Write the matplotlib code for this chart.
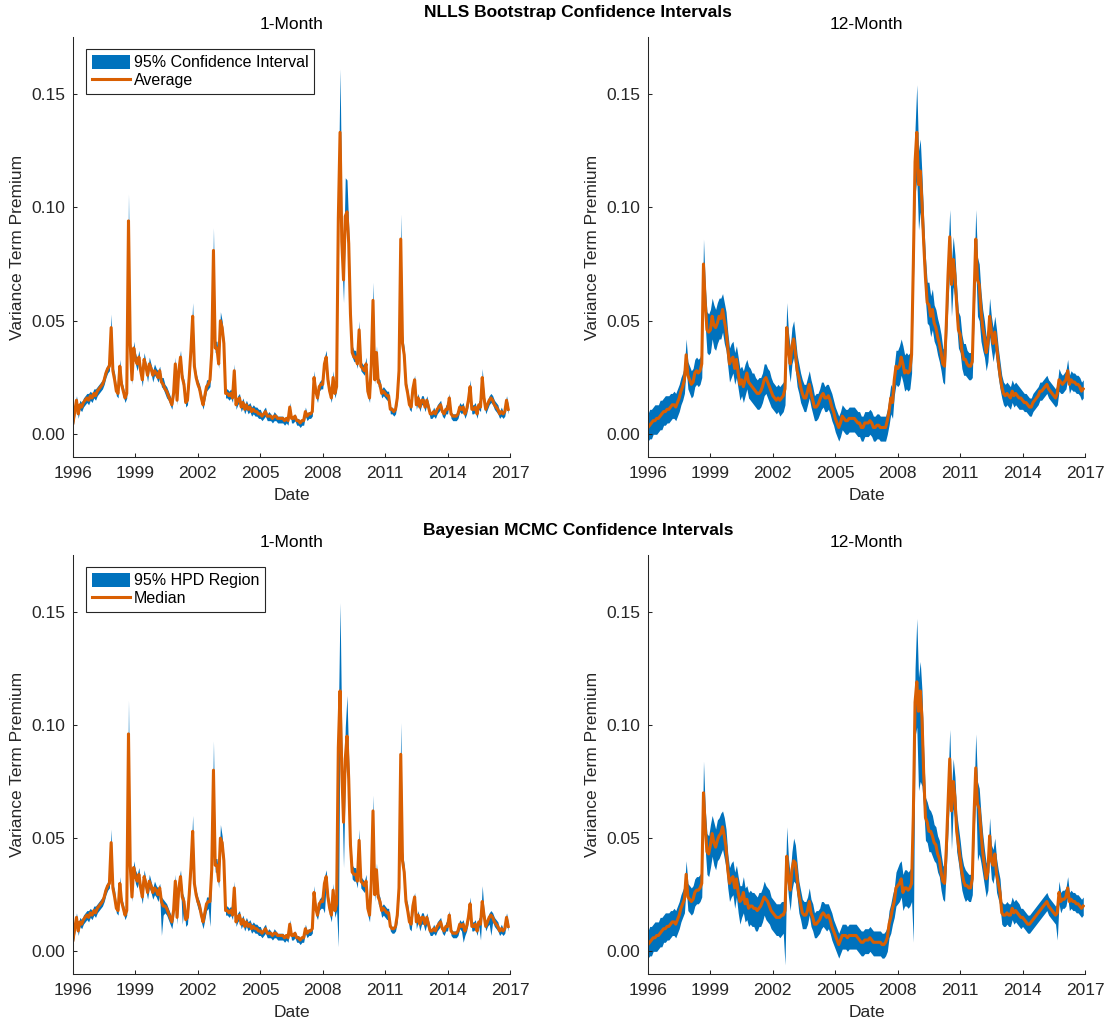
import numpy as np
import matplotlib
matplotlib.use("Agg")
import matplotlib.pyplot as plt
from matplotlib.patches import Patch
from matplotlib.lines import Line2D

plt.rcParams['font.family'] = ['Liberation Sans', 'DejaVu Sans']

# Monthly observations, Jan 1996 - Dec 2016 (values in units of 1e-3)
start_year = 1996
n_months = 252
year_ticks = [1996, 1999, 2002, 2005, 2008, 2011, 2014, 2017]
value_ticks = [0.00, 0.05, 0.10, 0.15]
value_tick_labels = ["0.00", "0.05", "0.10", "0.15"]

# ---- NLLS bootstrap, 1-month horizon: average and 95% CI distances ----
nlls_1m_avg = [
    5, 10, 15, 9, 13, 12, 14, 15, 16, 15, 17, 16,
    18, 17, 19, 20, 21, 22, 24, 27, 29, 30, 47, 28,
    24, 19, 18, 30, 22, 19, 16, 18, 94, 40, 24, 38,
    33, 31, 34, 28, 24, 33, 30, 26, 31, 29, 26, 28,
    27, 25, 28, 23, 22, 20, 19, 17, 15, 13, 18, 31,
    15, 28, 34, 25, 22, 14, 15, 25, 37, 52, 30, 25,
    22, 20, 16, 13, 17, 21, 22, 24, 36, 81, 38, 38,
    31, 50, 47, 40, 18, 18, 17, 18, 16, 28, 13, 15,
    16, 12, 14, 11, 13, 11, 12, 10, 11, 10, 10, 9,
    9, 8, 9, 10, 8, 8, 8, 7, 8, 8, 7, 7,
    7, 7, 6, 7, 6, 12, 7, 7, 8, 6, 6, 5,
    6, 6, 10, 8, 9, 9, 10, 25, 19, 16, 21, 22,
    22, 31, 34, 24, 19, 16, 25, 18, 21, 95, 133, 85,
    68, 96, 98, 84, 53, 36, 34, 34, 31, 46, 30, 29,
    28, 31, 19, 16, 30, 59, 24, 36, 23, 22, 18, 19,
    18, 17, 17, 11, 11, 10, 11, 16, 28, 86, 40, 35,
    22, 18, 13, 12, 20, 24, 13, 16, 12, 15, 15, 12,
    15, 12, 9, 9, 10, 9, 11, 12, 13, 10, 9, 11,
    11, 16, 9, 8, 8, 8, 9, 12, 11, 12, 9, 11,
    15, 21, 11, 11, 12, 9, 13, 12, 25, 16, 11, 13,
    15, 16, 15, 13, 12, 11, 9, 10, 9, 10, 15, 11,
]
nlls_1m_hi = [
    2, 2, 2, 3, 2, 2, 2, 2, 2, 3, 2, 2,
    2, 3, 2, 2, 2, 2, 3, 2, 2, 3, 6, 2,
    3, 2, 2, 3, 2, 2, 2, 3, 12, 3, 2, 3,
    3, 2, 3, 2, 3, 3, 2, 2, 3, 2, 2, 3,
    2, 3, 2, 2, 3, 2, 2, 2, 2, 2, 3, 3,
    2, 3, 3, 2, 2, 2, 2, 3, 3, 6, 2, 2,
    2, 2, 2, 2, 2, 3, 2, 2, 3, 10, 3, 3,
    3, 4, 3, 2, 2, 2, 2, 2, 2, 3, 2, 2,
    2, 2, 2, 2, 2, 2, 2, 2, 2, 2, 2, 2,
    2, 1, 2, 2, 1, 2, 1, 1, 2, 1, 1, 1,
    1, 1, 1, 1, 1, 2, 1, 1, 1, 1, 1, 1,
    1, 1, 2, 1, 1, 1, 2, 3, 2, 2, 2, 2,
    2, 3, 3, 2, 2, 2, 3, 2, 3, 12, 28, 14,
    10, 17, 14, 7, 4, 3, 3, 3, 3, 4, 2, 2,
    2, 3, 2, 2, 3, 8, 2, 3, 2, 2, 2, 2,
    2, 2, 2, 1, 1, 1, 1, 2, 3, 11, 4, 3,
    2, 2, 2, 2, 2, 2, 2, 2, 2, 2, 2, 2,
    2, 2, 1, 1, 2, 1, 2, 2, 2, 1, 1, 2,
    2, 2, 1, 1, 1, 1, 2, 2, 2, 2, 1, 2,
    2, 3, 2, 2, 2, 1, 2, 2, 4, 2, 2, 2,
    2, 2, 2, 2, 2, 2, 1, 2, 1, 2, 2, 2,
]
nlls_1m_lo = [
    2, 2, 2, 2, 2, 2, 2, 2, 2, 2, 2, 2,
    2, 2, 2, 2, 2, 2, 2, 2, 2, 2, 3, 2,
    2, 2, 2, 2, 2, 2, 2, 2, 4, 2, 2, 2,
    2, 3, 2, 2, 3, 2, 2, 3, 2, 2, 3, 2,
    2, 2, 3, 2, 2, 2, 3, 2, 2, 2, 2, 2,
    2, 2, 2, 3, 2, 2, 2, 2, 2, 3, 2, 2,
    2, 2, 2, 2, 2, 2, 2, 3, 2, 3, 2, 2,
    2, 2, 2, 2, 2, 2, 2, 2, 2, 2, 2, 2,
    2, 2, 2, 2, 2, 2, 2, 2, 2, 2, 2, 2,
    2, 2, 2, 2, 2, 2, 2, 2, 2, 2, 2, 2,
    2, 2, 2, 2, 2, 2, 2, 2, 2, 2, 2, 2,
    2, 2, 2, 2, 2, 2, 2, 2, 2, 2, 2, 2,
    2, 2, 2, 2, 2, 2, 2, 2, 2, 5, 6, 8,
    10, 6, 5, 4, 3, 2, 2, 2, 2, 3, 2, 2,
    2, 2, 2, 2, 2, 3, 2, 2, 2, 2, 2, 2,
    2, 2, 2, 2, 2, 2, 2, 2, 2, 3, 2, 2,
    2, 2, 2, 2, 2, 2, 2, 2, 2, 2, 2, 2,
    2, 2, 2, 2, 2, 2, 2, 2, 2, 2, 2, 2,
    2, 2, 2, 2, 2, 2, 2, 2, 2, 2, 2, 2,
    2, 2, 2, 2, 2, 2, 2, 2, 2, 2, 2, 2,
    2, 2, 2, 2, 2, 2, 2, 2, 2, 2, 2, 2,
]

# ---- NLLS bootstrap, 12-month horizon ----
nlls_12m_avg = [
    3, 4, 5, 6, 6, 7, 7, 8, 9, 10, 10, 11,
    11, 12, 13, 13, 12, 14, 16, 19, 21, 24, 35, 26,
    24, 22, 23, 27, 28, 27, 28, 31, 75, 58, 46, 45,
    46, 52, 48, 47, 49, 52, 51, 55, 50, 46, 38, 31,
    33, 34, 29, 33, 27, 22, 24, 21, 24, 27, 23, 22,
    21, 20, 19, 18, 18, 19, 21, 24, 25, 23, 21, 19,
    17, 16, 15, 16, 15, 16, 17, 20, 47, 37, 31, 39,
    42, 36, 28, 25, 21, 18, 16, 16, 19, 22, 18, 15,
    12, 12, 13, 15, 17, 18, 16, 16, 17, 15, 12, 10,
    7, 5, 3, 5, 8, 7, 6, 6, 7, 7, 7, 7,
    6, 5, 5, 3, 3, 5, 5, 5, 6, 5, 3, 3,
    4, 4, 3, 3, 3, 3, 6, 10, 16, 14, 24, 30,
    29, 30, 34, 31, 27, 28, 27, 28, 35, 75, 120, 133,
    110, 116, 102, 84, 69, 58, 57, 52, 55, 49, 47, 43,
    40, 36, 31, 30, 48, 70, 87, 66, 77, 70, 57, 46,
    44, 37, 33, 33, 31, 30, 30, 32, 60, 86, 68, 66,
    55, 47, 43, 36, 40, 52, 45, 40, 45, 39, 32, 26,
    21, 18, 17, 18, 17, 16, 19, 17, 18, 17, 16, 16,
    15, 14, 14, 13, 12, 12, 14, 15, 16, 17, 19, 19,
    20, 21, 22, 20, 19, 18, 17, 16, 18, 24, 23, 22,
    23, 24, 28, 22, 24, 23, 23, 22, 22, 21, 19, 20,
]
nlls_12m_hi = [
    6, 7, 6, 6, 7, 6, 6, 7, 6, 6, 7, 6,
    6, 6, 5, 6, 6, 6, 6, 6, 6, 6, 7, 6,
    6, 6, 6, 6, 6, 6, 6, 6, 11, 8, 8, 8,
    9, 8, 9, 8, 9, 8, 9, 7, 8, 8, 7, 7,
    7, 7, 7, 6, 7, 7, 6, 7, 7, 6, 7, 7,
    6, 7, 6, 6, 7, 6, 6, 7, 6, 6, 7, 6,
    6, 6, 6, 6, 6, 6, 6, 6, 11, 8, 7, 8,
    8, 7, 7, 6, 6, 6, 6, 6, 6, 6, 6, 6,
    5, 6, 5, 5, 6, 5, 5, 6, 5, 5, 6, 5,
    5, 5, 5, 5, 5, 5, 5, 5, 5, 5, 5, 5,
    5, 5, 5, 5, 5, 5, 5, 5, 5, 5, 5, 5,
    5, 5, 5, 5, 5, 5, 5, 6, 6, 6, 6, 7,
    8, 9, 8, 8, 8, 8, 8, 8, 8, 10, 15, 21,
    15, 14, 12, 10, 9, 9, 10, 9, 9, 8, 8, 8,
    8, 8, 7, 7, 8, 10, 12, 10, 10, 9, 8, 8,
    8, 7, 7, 7, 6, 6, 6, 7, 9, 13, 10, 9,
    8, 8, 7, 7, 7, 8, 7, 7, 7, 7, 6, 6,
    5, 5, 5, 5, 5, 5, 5, 5, 5, 5, 5, 4,
    4, 4, 4, 4, 4, 4, 4, 4, 4, 4, 4, 4,
    4, 4, 4, 4, 4, 4, 4, 4, 4, 5, 4, 4,
    4, 4, 5, 4, 4, 4, 4, 4, 4, 4, 4, 4,
]
nlls_12m_lo = [
    6, 6, 7, 6, 6, 7, 6, 6, 7, 6, 6, 6,
    6, 6, 6, 6, 6, 6, 6, 6, 6, 6, 6, 6,
    6, 6, 6, 6, 6, 6, 6, 6, 8, 10, 10, 10,
    10, 10, 10, 10, 9, 10, 9, 10, 10, 9, 8, 8,
    8, 7, 7, 8, 7, 7, 7, 7, 7, 7, 7, 7,
    7, 7, 7, 7, 7, 7, 7, 7, 7, 7, 7, 7,
    6, 6, 6, 6, 7, 7, 7, 7, 8, 8, 8, 8,
    8, 8, 7, 7, 7, 6, 6, 6, 6, 6, 6, 6,
    6, 6, 6, 6, 6, 6, 6, 6, 6, 6, 6, 6,
    6, 6, 6, 6, 6, 6, 6, 6, 6, 6, 6, 6,
    6, 6, 6, 6, 6, 6, 6, 6, 6, 6, 6, 6,
    6, 6, 6, 6, 6, 6, 6, 6, 7, 7, 7, 8,
    8, 8, 8, 8, 8, 8, 8, 8, 8, 10, 15, 20,
    20, 18, 15, 12, 10, 9, 9, 9, 9, 8, 8, 8,
    8, 8, 8, 8, 9, 12, 14, 14, 12, 10, 9, 8,
    8, 8, 7, 7, 6, 6, 6, 7, 9, 12, 16, 16,
    14, 10, 9, 8, 8, 9, 8, 8, 8, 8, 7, 6,
    5, 5, 5, 5, 5, 5, 5, 5, 5, 5, 5, 5,
    4, 4, 4, 4, 4, 4, 4, 4, 4, 4, 4, 4,
    4, 4, 4, 4, 4, 4, 4, 4, 5, 5, 5, 4,
    4, 4, 4, 4, 4, 4, 4, 4, 4, 4, 4, 4,
]

# ---- Bayesian MCMC, 1-month horizon: median and 95% HPD distances ----
mcmc_1m_med = [
    5, 10, 15, 9, 13, 12, 14, 15, 16, 15, 17, 16,
    18, 17, 19, 20, 21, 22, 24, 27, 29, 30, 48, 28,
    24, 19, 18, 30, 22, 19, 16, 18, 96, 38, 24, 37,
    33, 31, 34, 28, 24, 33, 30, 26, 31, 29, 26, 28,
    27, 25, 28, 22, 20, 20, 19, 17, 15, 13, 18, 31,
    15, 28, 33, 24, 22, 14, 15, 25, 37, 53, 30, 25,
    22, 20, 16, 13, 17, 21, 22, 22, 36, 80, 38, 38,
    31, 50, 48, 40, 18, 18, 17, 18, 16, 28, 13, 15,
    16, 12, 14, 11, 13, 11, 12, 10, 11, 10, 10, 9,
    9, 8, 9, 10, 8, 8, 8, 7, 8, 8, 7, 7,
    7, 7, 6, 7, 6, 12, 7, 7, 8, 6, 6, 5,
    6, 6, 10, 8, 9, 9, 10, 26, 19, 16, 21, 22,
    22, 30, 33, 24, 19, 16, 27, 18, 21, 90, 115, 80,
    57, 85, 95, 76, 47, 35, 34, 34, 31, 49, 31, 30,
    29, 31, 19, 16, 30, 62, 25, 36, 24, 22, 18, 19,
    18, 17, 17, 11, 10, 10, 11, 16, 28, 87, 40, 35,
    22, 18, 13, 12, 20, 24, 13, 16, 12, 15, 15, 12,
    15, 12, 9, 9, 10, 9, 11, 12, 13, 10, 9, 11,
    11, 16, 9, 8, 8, 8, 9, 12, 11, 12, 9, 11,
    15, 21, 11, 11, 12, 9, 13, 12, 22, 16, 11, 13,
    15, 16, 15, 13, 12, 11, 9, 10, 9, 10, 15, 11,
]
mcmc_1m_hi = [
    2, 2, 2, 3, 2, 2, 2, 2, 2, 3, 2, 2,
    2, 3, 2, 2, 2, 2, 3, 2, 2, 3, 6, 2,
    3, 2, 2, 3, 2, 2, 2, 3, 15, 3, 2, 3,
    3, 3, 3, 2, 3, 3, 2, 2, 3, 2, 2, 3,
    2, 3, 2, 2, 3, 2, 2, 2, 2, 2, 3, 3,
    2, 3, 3, 2, 2, 2, 2, 3, 3, 7, 2, 2,
    2, 2, 2, 2, 2, 3, 2, 2, 3, 13, 3, 3,
    3, 6, 3, 2, 2, 2, 2, 2, 2, 3, 2, 2,
    2, 2, 2, 2, 2, 2, 2, 2, 2, 2, 2, 2,
    2, 1, 2, 2, 1, 2, 1, 1, 2, 1, 1, 1,
    1, 1, 1, 1, 1, 2, 1, 1, 1, 1, 1, 1,
    1, 1, 2, 1, 1, 1, 2, 3, 2, 2, 2, 2,
    2, 3, 3, 2, 2, 2, 3, 2, 3, 12, 39, 14,
    10, 14, 18, 8, 4, 3, 3, 3, 3, 5, 2, 2,
    2, 3, 2, 2, 3, 7, 2, 3, 2, 2, 2, 2,
    2, 2, 2, 1, 1, 1, 1, 2, 3, 14, 4, 3,
    2, 3, 2, 2, 2, 2, 2, 2, 2, 2, 2, 2,
    2, 2, 1, 1, 2, 1, 2, 2, 2, 1, 1, 2,
    2, 2, 1, 1, 1, 1, 2, 2, 2, 2, 1, 2,
    2, 3, 2, 2, 2, 1, 2, 2, 7, 2, 2, 2,
    2, 2, 2, 2, 2, 2, 1, 2, 1, 3, 2, 2,
]
mcmc_1m_lo = [
    2, 2, 2, 2, 2, 2, 2, 2, 2, 2, 2, 2,
    2, 2, 2, 2, 2, 2, 2, 2, 2, 2, 3, 2,
    2, 2, 2, 2, 2, 2, 2, 2, 4, 3, 2, 2,
    3, 3, 3, 3, 3, 3, 3, 3, 3, 3, 3, 3,
    3, 3, 3, 15, 4, 3, 3, 3, 3, 3, 3, 3,
    3, 3, 3, 12, 3, 3, 3, 3, 3, 3, 3, 3,
    3, 3, 3, 3, 3, 3, 3, 11, 3, 4, 3, 3,
    3, 3, 3, 3, 2, 2, 2, 2, 2, 2, 2, 2,
    2, 2, 2, 2, 2, 2, 2, 2, 2, 2, 2, 2,
    2, 2, 2, 2, 2, 2, 2, 2, 2, 2, 2, 2,
    2, 2, 2, 2, 2, 2, 2, 2, 2, 2, 2, 2,
    2, 2, 2, 2, 2, 2, 2, 3, 3, 2, 3, 3,
    3, 13, 3, 3, 3, 3, 3, 3, 3, 88, 10, 10,
    20, 8, 6, 5, 3, 3, 3, 3, 3, 3, 3, 3,
    3, 3, 3, 3, 3, 4, 3, 3, 3, 3, 3, 3,
    3, 3, 3, 2, 2, 2, 2, 3, 3, 4, 3, 3,
    3, 3, 3, 3, 3, 3, 3, 3, 3, 3, 3, 3,
    3, 3, 2, 2, 2, 2, 2, 2, 2, 2, 2, 2,
    2, 2, 2, 2, 2, 2, 2, 2, 2, 8, 2, 2,
    2, 3, 2, 2, 2, 2, 2, 7, 3, 2, 2, 2,
    3, 9, 2, 2, 2, 2, 2, 2, 2, 2, 2, 2,
]

# ---- Bayesian MCMC, 12-month horizon ----
mcmc_12m_med = [
    3, 4, 5, 6, 6, 7, 7, 8, 9, 10, 10, 11,
    11, 12, 13, 13, 12, 14, 16, 19, 21, 23, 34, 24,
    23, 22, 23, 26, 27, 27, 28, 30, 70, 55, 44, 43,
    47, 52, 48, 46, 49, 51, 52, 55, 51, 46, 36, 30,
    32, 33, 28, 32, 26, 22, 23, 26, 21, 23, 19, 20,
    20, 19, 19, 18, 19, 20, 22, 24, 23, 22, 20, 18,
    17, 16, 15, 15, 15, 16, 16, 18, 42, 33, 27, 36,
    40, 39, 32, 25, 21, 17, 16, 16, 18, 22, 17, 15,
    12, 12, 13, 14, 16, 17, 16, 15, 16, 14, 11, 9,
    7, 5, 3, 5, 7, 7, 7, 6, 7, 7, 7, 7,
    7, 6, 5, 4, 4, 5, 5, 5, 6, 5, 4, 4,
    4, 4, 4, 3, 3, 4, 6, 12, 15, 19, 22, 28,
    29, 30, 32, 26, 28, 28, 27, 28, 30, 60, 110, 119,
    106, 115, 103, 78, 59, 57, 53, 53, 51, 48, 47, 43,
    41, 35, 31, 30, 45, 65, 85, 62, 75, 68, 53, 47,
    41, 35, 31, 29, 29, 28, 28, 32, 60, 81, 65, 63,
    53, 44, 38, 32, 35, 51, 40, 38, 43, 34, 30, 26,
    17, 16, 16, 17, 16, 16, 19, 17, 18, 17, 16, 15,
    15, 14, 13, 12, 12, 13, 14, 15, 16, 17, 18, 19,
    20, 21, 22, 20, 19, 18, 17, 16, 17, 26, 22, 23,
    23, 24, 28, 22, 23, 22, 22, 21, 21, 20, 19, 20,
]
mcmc_12m_hi = [
    6, 7, 6, 6, 7, 6, 6, 7, 6, 6, 7, 6,
    6, 6, 5, 6, 6, 6, 6, 6, 6, 6, 6, 6,
    6, 6, 6, 6, 6, 6, 6, 6, 14, 8, 8, 8,
    9, 8, 9, 8, 9, 8, 9, 7, 8, 8, 7, 7,
    7, 7, 7, 6, 7, 7, 6, 7, 7, 6, 7, 7,
    6, 7, 6, 6, 7, 6, 6, 7, 6, 6, 7, 6,
    6, 6, 6, 6, 6, 6, 6, 6, 13, 8, 7, 8,
    10, 8, 7, 6, 6, 6, 6, 6, 6, 6, 6, 6,
    5, 6, 5, 5, 6, 5, 5, 6, 5, 5, 6, 5,
    5, 5, 5, 5, 5, 5, 5, 5, 5, 5, 5, 5,
    5, 5, 5, 5, 5, 5, 5, 5, 5, 5, 5, 5,
    5, 5, 5, 5, 5, 5, 5, 6, 6, 6, 6, 7,
    8, 9, 8, 8, 8, 8, 8, 8, 8, 10, 15, 28,
    15, 13, 12, 10, 9, 9, 10, 9, 9, 8, 8, 8,
    8, 8, 7, 7, 8, 10, 13, 10, 10, 9, 8, 8,
    8, 7, 7, 7, 6, 6, 6, 7, 9, 15, 10, 9,
    8, 8, 7, 7, 7, 8, 7, 7, 7, 7, 6, 6,
    5, 5, 5, 5, 5, 5, 5, 5, 5, 5, 5, 4,
    4, 4, 4, 4, 4, 4, 4, 4, 4, 4, 4, 4,
    4, 4, 4, 4, 4, 4, 4, 4, 4, 5, 4, 4,
    4, 4, 5, 4, 4, 4, 4, 4, 4, 4, 4, 4,
]
mcmc_12m_lo = [
    6, 6, 7, 6, 6, 7, 6, 6, 7, 6, 6, 6,
    6, 6, 6, 6, 6, 6, 6, 6, 6, 6, 6, 6,
    6, 6, 6, 6, 6, 6, 6, 6, 8, 10, 10, 10,
    10, 10, 10, 10, 9, 10, 9, 10, 10, 9, 8, 8,
    8, 8, 9, 8, 9, 10, 8, 9, 8, 9, 8, 8,
    9, 8, 10, 9, 8, 9, 9, 8, 9, 9, 8, 8,
    8, 8, 8, 8, 9, 9, 8, 24, 9, 9, 9, 9,
    9, 9, 8, 8, 7, 7, 6, 6, 6, 6, 6, 6,
    6, 6, 6, 6, 6, 6, 6, 6, 6, 6, 6, 6,
    6, 6, 6, 6, 6, 6, 6, 6, 6, 6, 6, 6,
    6, 6, 6, 6, 6, 6, 6, 6, 6, 6, 6, 6,
    6, 6, 6, 6, 6, 6, 6, 6, 7, 7, 7, 8,
    8, 8, 8, 8, 8, 8, 8, 8, 8, 56, 15, 20,
    35, 40, 30, 15, 10, 9, 9, 9, 9, 8, 8, 8,
    8, 8, 8, 8, 9, 12, 14, 17, 12, 10, 9, 8,
    8, 8, 7, 7, 6, 6, 6, 7, 9, 12, 25, 20,
    14, 10, 9, 8, 8, 9, 8, 8, 8, 8, 7, 6,
    5, 5, 5, 5, 5, 5, 5, 5, 5, 5, 5, 5,
    4, 4, 4, 4, 4, 4, 4, 4, 4, 4, 4, 4,
    4, 4, 4, 4, 4, 4, 4, 4, 12, 5, 5, 4,
    4, 4, 4, 4, 4, 4, 4, 4, 4, 4, 4, 4,
]

UNIT = 1e-3
BLUE = '#0072BD'
ORANGE = '#D95F02'
AXIS_GREY = '#262626'
FS = 12.5

dates = start_year + np.arange(n_months) / 12.0

fig = plt.figure(figsize=(11.05, 10.27), dpi=100)
FW, FH = 1105.0, 1027.0


def panel(left, top, right, bottom):
    return fig.add_axes([left / FW, 1 - bottom / FH,
                         (right - left) / FW, (bottom - top) / FH])


def draw(ax, centre, hi, lo, title, labels=None):
    c = np.asarray(centre) * UNIT
    upper = c + np.asarray(hi) * UNIT
    lower = c - np.asarray(lo) * UNIT
    ax.fill_between(dates, lower, upper, color=BLUE, linewidth=0)
    ax.plot(dates, c, color=ORANGE, lw=2.2)

    ax.set_xlim(1996, 2017)
    ax.set_ylim(-0.01, 0.175)
    ax.set_xticks(year_ticks)
    ax.set_xticklabels([str(y) for y in year_ticks])
    ax.set_yticks(value_ticks)
    ax.set_yticklabels(value_tick_labels)

    for side in ('top', 'right'):
        ax.spines[side].set_visible(False)
    for side in ('left', 'bottom'):
        ax.spines[side].set_color(AXIS_GREY)
        ax.spines[side].set_linewidth(0.75)
    ax.tick_params(axis='both', direction='in', length=3, width=0.75,
                   colors=AXIS_GREY, labelsize=FS)
    ax.tick_params(axis='x', pad=6.5)
    ax.tick_params(axis='y', pad=5.5)

    ax.set_title(title, fontsize=FS, color='black', pad=5.5)
    ax.set_xlabel('Date', fontsize=FS, color=AXIS_GREY)
    ax.set_ylabel('Variance Term Premium', fontsize=FS, color=AXIS_GREY)
    ax.xaxis.set_label_coords(0.5, -0.075)
    ax.yaxis.set_label_coords(-0.109, 0.5)

    if labels is not None:
        handles = [Patch(facecolor=BLUE, edgecolor='none'),
                   Line2D([], [], color=ORANGE, lw=2.2)]
        leg = ax.legend(handles, labels, loc='upper left',
                        bbox_to_anchor=(0.0297, 0.971), borderaxespad=0,
                        fancybox=False, framealpha=1, edgecolor=AXIS_GREY,
                        fontsize=11.5, handlelength=2.4, handleheight=1.0,
                        handletextpad=0.25, borderpad=0.35, labelspacing=0.15)
        leg.get_frame().set_linewidth(0.8)
        for t in leg.get_texts():
            t.set_color('black')


ax_tl = panel(73, 37, 510, 457)
ax_tr = panel(648, 37, 1085, 457)
ax_bl = panel(73, 555, 510, 974)
ax_br = panel(648, 555, 1085, 974)

draw(ax_tl, nlls_1m_avg, nlls_1m_hi, nlls_1m_lo, '1-Month',
     ['95% Confidence Interval', 'Average'])
draw(ax_tr, nlls_12m_avg, nlls_12m_hi, nlls_12m_lo, '12-Month')
draw(ax_bl, mcmc_1m_med, mcmc_1m_hi, mcmc_1m_lo, '1-Month',
     ['95% HPD Region', 'Median'])
draw(ax_br, mcmc_12m_med, mcmc_12m_hi, mcmc_12m_lo, '12-Month')

fig.text(578 / FW, 1 - 13 / FH, 'NLLS Bootstrap Confidence Intervals',
         ha='center', va='center', fontsize=FS, fontweight='bold')
fig.text(578 / FW, 1 - 531 / FH, 'Bayesian MCMC Confidence Intervals',
         ha='center', va='center', fontsize=FS, fontweight='bold')

fig.savefig('out.png', dpi=100)
